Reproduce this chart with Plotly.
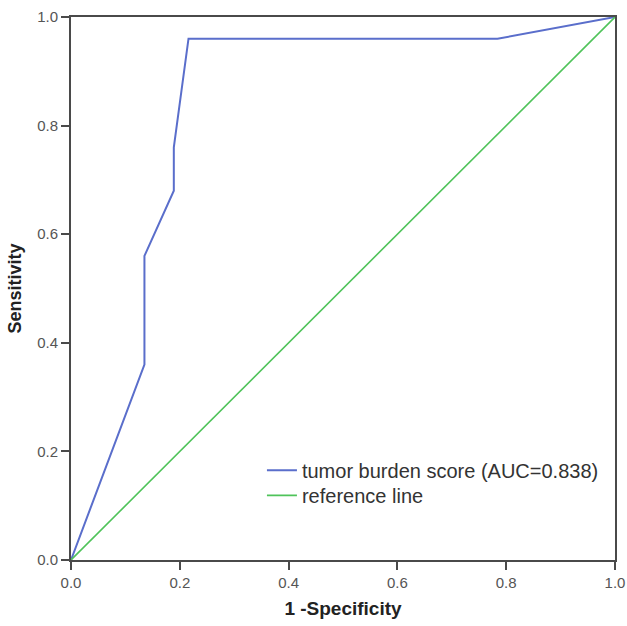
import plotly.graph_objects as go

# ROC curve data
fpr = [0.0, 0.135, 0.135, 0.189, 0.189, 0.216, 0.784, 1.0]
tpr = [0.0, 0.36, 0.56, 0.68, 0.76, 0.96, 0.96, 1.0]
ref_x = [0.0, 1.0]
ref_y = [0.0, 1.0]
tick_vals = [0.0, 0.2, 0.4, 0.6, 0.8, 1.0]
tick_text = ["0.0", "0.2", "0.4", "0.6", "0.8", "1.0"]
series_names = ["tumor burden score (AUC=0.838)", "reference line"]

fig = go.Figure()
fig.add_trace(go.Scatter(x=fpr, y=tpr, mode="lines", name=series_names[0],
                         line=dict(color="#5a6ecb", width=2), legend="legend"))
fig.add_trace(go.Scatter(x=ref_x, y=ref_y, mode="lines", name=series_names[1],
                         line=dict(color="#4fc35a", width=1.6), legend="legend2"))

axis_common = dict(
    range=[0, 1], tickvals=tick_vals, ticktext=tick_text, automargin=False,
    showgrid=False, zeroline=False, showline=True, linecolor="#4a4a4a", linewidth=2,
    mirror=True, ticks="outside", ticklen=8, tickwidth=2, tickcolor="#4a4a4a",
    tickfont=dict(family="Liberation Sans, Arial, sans-serif", size=15, color="#555555"),
)

legend_common = dict(xanchor="left", yanchor="top", bgcolor="rgba(0,0,0,0)",
                     font=dict(size=20, color="#333333"), itemwidth=30)

fig.update_layout(
    width=627, height=626,
    margin=dict(l=71, r=12, t=17, b=66),
    paper_bgcolor="white", plot_bgcolor="white",
    font=dict(family="Liberation Sans, Arial, sans-serif"),
    xaxis=dict(**axis_common,
               title=dict(text="<b>1 -Specificity</b>", font=dict(size=19, color="#222222"), standoff=12)),
    yaxis=dict(**axis_common,
               title=dict(text="<b>Sensitivity</b>", font=dict(size=18, color="#222222"), standoff=11)),
    legend=dict(x=0.351, y=0.201, **legend_common),
    legend2=dict(x=0.351, y=0.155, **legend_common),
    showlegend=True,
)

fig.write_html("out.html",
               config={"displayModeBar": False},
               post_script="document.body.style.margin='0';document.body.style.overflow='hidden';")
